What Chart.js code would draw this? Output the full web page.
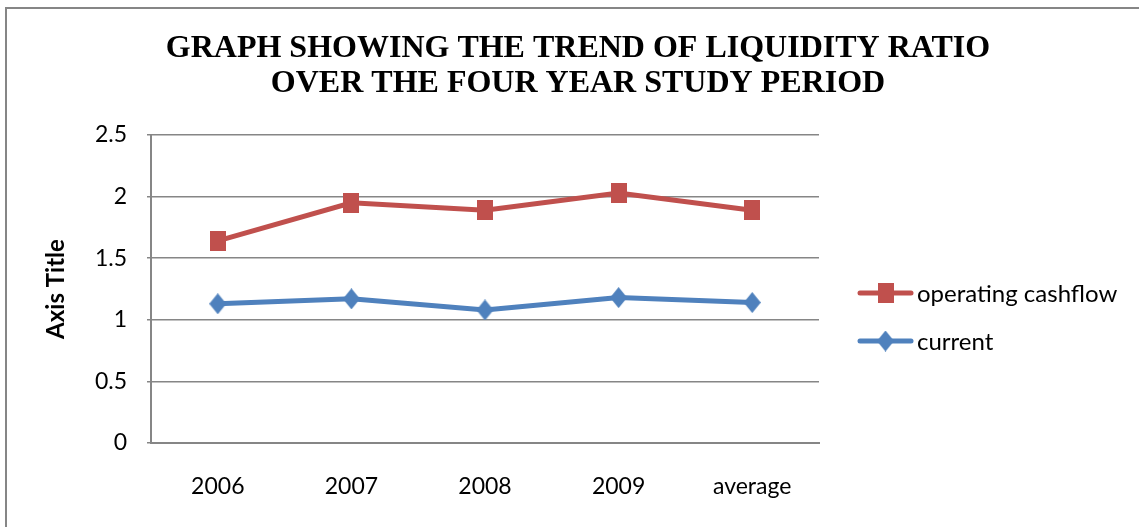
<!DOCTYPE html>
<html>
<head>
<meta charset="utf-8">
<script src="https://cdn.jsdelivr.net/npm/chart.js@4"></script>
<style>
  html, body { margin: 0; padding: 0; background: #ffffff; }
  #wrap { position: relative; width: 1139px; height: 527px; }
</style>
</head>
<body>
<div id="wrap"><canvas id="chart" width="1139" height="527"></canvas></div>
<script>
// Liquidity ratios by year
const categories = ['2006', '2007', '2008', '2009', 'average'];
const operatingCashflow = [1.64, 1.95, 1.89, 2.03, 1.89];
const currentRatio = [1.13, 1.17, 1.08, 1.18, 1.14];
const yTickLabels = ['0', '0.5', '1', '1.5', '2', '2.5'];
const seriesNames = ['operating cashflow', 'current'];
const titleLines = ['GRAPH SHOWING THE TREND OF LIQUIDITY RATIO', 'OVER THE FOUR YEAR STUDY PERIOD'];

const RED = '#C0504D';
const BLUE = '#4F81BD';
const GRID = '#868686';
const TICK_FONT = 'Lato';

// marker images: square and diamond
function squareMarker(color, w, h) {
  const c = document.createElement('canvas');
  c.width = w; c.height = h;
  const g = c.getContext('2d');
  g.fillStyle = color;
  g.fillRect(0, 0, w, h);
  return c;
}
function diamondMarker(color, w, h) {
  const c = document.createElement('canvas');
  c.width = w; c.height = h;
  const g = c.getContext('2d');
  g.fillStyle = color;
  g.beginPath();
  g.moveTo(w / 2, 0);
  g.lineTo(w, h / 2);
  g.lineTo(w / 2, h);
  g.lineTo(0, h / 2);
  g.closePath();
  g.fill();
  return c;
}
const redSquare = squareMarker(RED, 16, 20);
const blueDiamond = diamondMarker(BLUE, 17, 21);

// frame, title and legend
const decorations = {
  id: 'decorations',
  beforeDraw(chart) {
    const ctx = chart.ctx;
    ctx.save();
    ctx.strokeStyle = GRID;
    ctx.lineWidth = 2;
    ctx.strokeRect(6, 8, 1300, 700);
    ctx.restore();
  },
  afterDraw(chart) {
    const ctx = chart.ctx;
    ctx.save();
    ctx.fillStyle = '#000000';
    ctx.font = 'bold 32px "Liberation Serif"';
    ctx.textAlign = 'center';
    ctx.textBaseline = 'alphabetic';
    ctx.fillText(titleLines[0], 578, 57);
    ctx.fillText(titleLines[1], 578, 92);

    const rows = [293, 341];
    chart.data.datasets.forEach((ds, i) => {
      const y = rows[i];
      ctx.strokeStyle = ds.borderColor;
      ctx.lineWidth = ds.borderWidth;
      ctx.lineCap = 'round';
      ctx.beginPath();
      ctx.moveTo(860, y);
      ctx.lineTo(911, y);
      ctx.stroke();
      const img = ds.pointStyle;
      ctx.drawImage(img, 885.5 - img.width / 2, y - img.height / 2);
      ctx.fillStyle = '#000000';
      ctx.font = '24px ' + TICK_FONT;
      ctx.textAlign = 'left';
      ctx.textBaseline = 'middle';
      ctx.fillText(ds.label, 917, y + 1);
    });
    ctx.restore();
  }
};

new Chart(document.getElementById('chart'), {
  type: 'line',
  data: {
    labels: categories,
    datasets: [
      {
        label: seriesNames[0],
        data: operatingCashflow,
        borderColor: RED,
        backgroundColor: RED,
        borderWidth: 5,
        pointStyle: redSquare,
        pointRadius: 8,
        tension: 0
      },
      {
        label: seriesNames[1],
        data: currentRatio,
        borderColor: BLUE,
        backgroundColor: BLUE,
        borderWidth: 5,
        pointStyle: blueDiamond,
        pointRadius: 8,
        tension: 0
      }
    ]
  },
  options: {
    responsive: false,
    animation: false,
    devicePixelRatio: 1,
    layout: { padding: { top: 135, right: 320, bottom: 0, left: 0 } },
    plugins: {
      legend: { display: false },
      title: { display: false },
      tooltip: { enabled: false }
    },
    scales: {
      x: {
        offset: true,
        grid: { display: false, drawTicks: false },
        border: { display: true, color: GRID, width: 2 },
        ticks: {
          color: '#000000',
          font: { family: TICK_FONT, size: 23 },
          padding: 30,
          maxRotation: 0
        },
        afterFit(scale) { scale.height = 84; }
      },
      y: {
        min: 0,
        max: 2.5,
        grid: { color: GRID, lineWidth: 1.5, drawTicks: true, tickLength: 4 },
        border: { display: true, color: GRID, width: 2 },
        ticks: {
          stepSize: 0.5,
          color: '#000000',
          font: { family: TICK_FONT, size: 23 },
          padding: 20,
          callback: (v, i) => yTickLabels[i]
        },
        title: {
          display: true,
          text: 'Axis Title',
          color: '#000000',
          font: { family: TICK_FONT, size: 24, weight: 'bold' },
          padding: { top: 42, bottom: 0 }
        },
        afterFit(scale) { scale.width = 151; }
      }
    }
  },
  plugins: [decorations]
});
</script>
</body>
</html>
